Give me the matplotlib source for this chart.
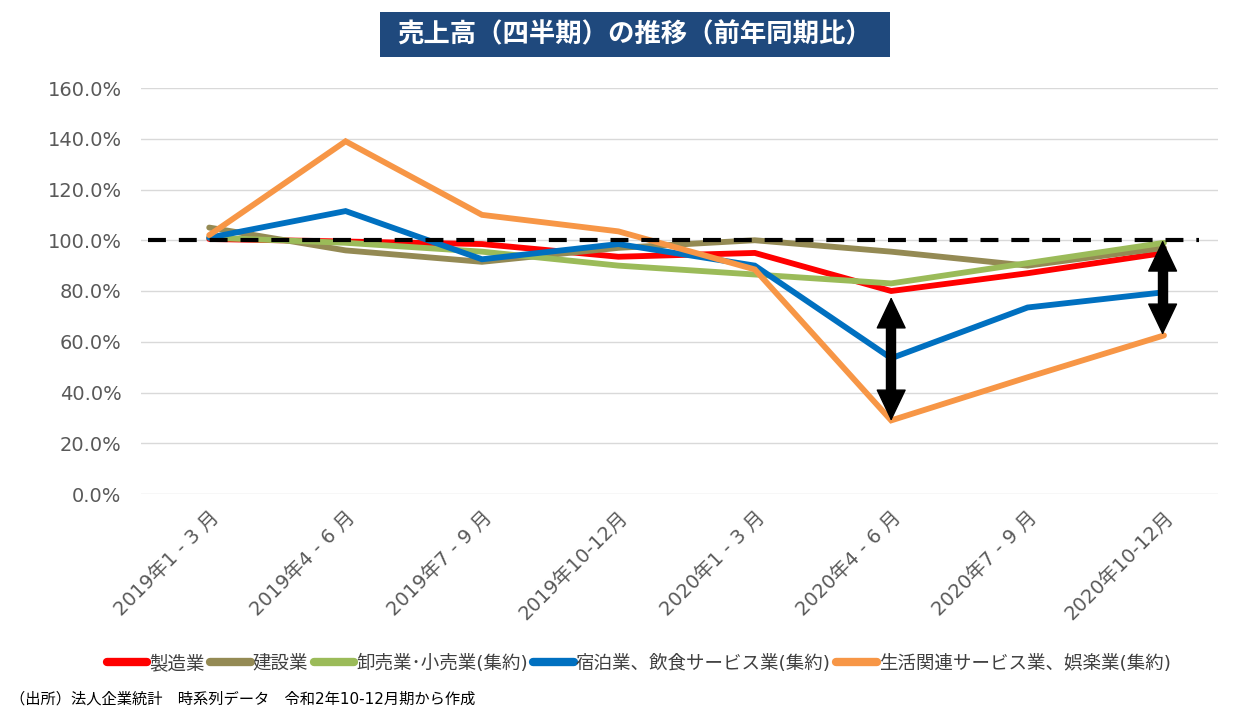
import matplotlib.pyplot as plt
from matplotlib.patches import Rectangle

plt.rcParams['font.family'] = ['DejaVu Sans', 'Noto Sans CJK JP']

quarters = ['2019年1 - 3 月', '2019年4 - 6 月', '2019年7 - 9 月', '2019年10-12月',
            '2020年1 - 3 月', '2020年4 - 6 月', '2020年7 - 9 月', '2020年10-12月']

# 前年同期比 (%)
manufacturing = [100.5, 99.5, 98.5, 93.5, 95.0, 80.0, 87.0, 95.0]
construction = [105.0, 96.0, 91.5, 97.0, 100.0, 95.5, 90.0, 97.0]
wholesale_retail = [101.0, 99.0, 95.5, 90.0, 86.5, 83.0, 91.0, 99.0]
lodging_food = [101.0, 111.5, 92.5, 98.5, 90.0, 53.5, 73.5, 79.5]
lifestyle_leisure = [102.0, 139.0, 110.0, 103.5, 88.5, 29.0, 46.0, 62.5]

series_names = ['製造業', '建設業', '卸売業･小売業(集約)', '宿泊業、飲食サービス業(集約)',
                '生活関連サービス業、娯楽業(集約)']
series_colors = ['#FF0000', '#948A54', '#9BBB59', '#0070C0', '#F79646']

y_ticks = [0, 20, 40, 60, 80, 100, 120, 140, 160]
baseline = 100

title = '売上高（四半期）の推移（前年同期比）'
source = '（出所）法人企業統計　時系列データ　令和2年10-12月期から作成'

fig = plt.figure(figsize=(12.55, 7.16), dpi=100)
ax = fig.add_axes([141 / 1255, 1 - 494 / 716, (1218 - 141) / 1255, (494 - 88) / 716])

x = list(range(len(quarters)))
all_series = [manufacturing, construction, wholesale_retail, lodging_food, lifestyle_leisure]
for vals, name, color in zip(all_series, series_names, series_colors):
    ax.plot(x, vals, color=color, lw=4.2, label=name, solid_joinstyle='miter',
            solid_capstyle='round', zorder=3)

# 100%の基準線
ax.hlines(baseline, -0.45, 7.26, color='black', lw=3, ls=(0, (4.3, 3.1)), zorder=5)


def gap_arrow(xpos, low, high):
    """両矢印: 細い輪郭の矢じり + 太い軸"""
    ax.annotate('', xy=(xpos, low), xytext=(xpos, high),
                arrowprops=dict(arrowstyle='<|-|>,head_length=2.1,head_width=1.0',
                                color='black', lw=1, shrinkA=0, shrinkB=0),
                zorder=6)
    ax.plot([xpos, xpos], [low + 9, high - 9], color='black', lw=7.5,
            solid_capstyle='butt', zorder=6)


# ギャップを示す両矢印
gap_arrow(5, 28.8, 77.6)
gap_arrow(6.99, 62.7, baseline)

ax.set_xlim(-0.5, 7.396)
ax.set_ylim(0, 160)
ax.set_yticks(y_ticks)
ax.set_yticklabels([f'{v:.1f}%' for v in y_ticks], fontsize=14, color='#595959')
ax.set_xticks(x)
ax.set_xticklabels(quarters, rotation=45, ha='right', rotation_mode='anchor',
                   fontsize=14, color='#595959')
ax.tick_params(axis='y', length=0, pad=14)
ax.tick_params(axis='x', length=0, pad=10)
ax.grid(axis='y', color='#D9D9D9', lw=1)
ax.set_axisbelow(True)
for s in ax.spines.values():
    s.set_visible(False)

fig.patches.append(Rectangle((380 / 1255, 1 - 57 / 716), 510 / 1255, 45 / 716,
                             transform=fig.transFigure, facecolor='#1F497D',
                             edgecolor='none'))
fig.text(635 / 1255, 1 - 35 / 716, title, ha='center', va='center', fontsize=19,
         fontweight='bold', color='white')

leg = fig.legend(loc='center', bbox_to_anchor=(0.509, 0.073), ncol=5, frameon=False,
                 fontsize=13.3, handlelength=2.2, handletextpad=0.1, columnspacing=0.3,
                 labelcolor='#404040')
for h in leg.get_lines():
    h.set_linewidth(6)
    h.set_solid_capstyle('round')

fig.text(0.008, 0.013, source, ha='left', va='bottom', fontsize=11, color='black')

fig.savefig('out.png', dpi=100)
